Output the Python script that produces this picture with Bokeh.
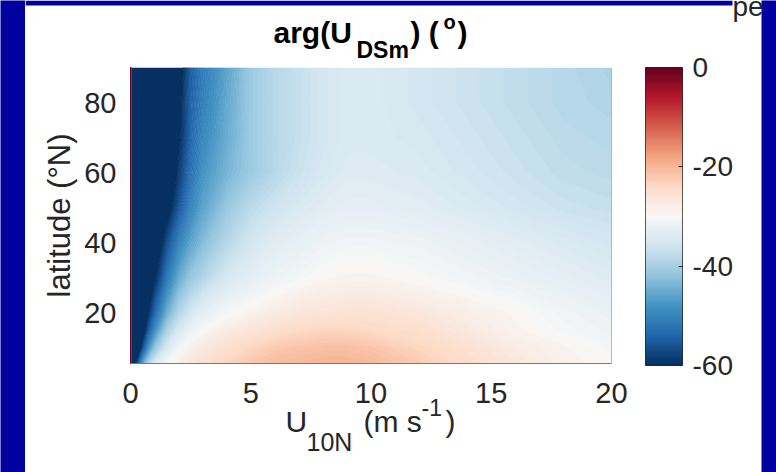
import numpy as np
from bokeh.plotting import figure
from bokeh.models import (LinearColorMapper, Range1d, FixedTicker, Label, Span,
                          BoxAnnotation, GridBox)
from bokeh.layouts import row, column
from bokeh.embed import file_html
from bokeh.resources import INLINE

# ---------------- data ----------------
wind_speed = [0, 0.05, 0.25, 0.5, 0.75, 1, 1.5, 2, 2.5, 3, 4, 5, 6, 7, 8, 9, 10, 12, 14, 16, 18, 20]
latitude = [5, 10, 15, 20, 30, 40, 50, 60, 70, 80, 90]

arg_lat05 = [0, -66, -57, -45, -38, -34, -30, -28, -26, -25, -23, -21.5, -20.5, -20, -19.5, -19.5, -20, -22, -24.5, -26.5, -28.5, -30]
arg_lat10 = [0, -75, -70, -57, -48, -42, -35, -31, -28.5, -27, -25, -23.5, -22, -21.5, -21, -21, -21.5, -23.5, -25.5, -27.5, -29, -30.5]
arg_lat15 = [0, -78, -74, -64, -55, -49, -40, -35, -32, -30, -27.5, -26, -25, -24, -23.5, -23.5, -24, -25, -27, -29, -30.5, -31.5]
arg_lat20 = [0, -80, -76, -68, -60, -54, -45, -39, -35.5, -33, -30.5, -29, -27.5, -26.5, -26, -25.5, -25.5, -26.5, -28, -29.5, -31, -32]
arg_lat30 = [0, -80, -78, -72, -66, -61, -52, -45.5, -41.5, -39, -35, -33, -31.5, -30.5, -29.5, -29, -29, -30, -31, -32, -33, -34]
arg_lat40 = [0, -80, -80, -76, -71, -66, -57, -50.5, -46, -43, -38.5, -35.5, -33.5, -32.5, -31.5, -31, -31, -31.5, -32.5, -33.5, -34.5, -35.5]
arg_lat50 = [0, -80, -80, -78, -75, -72, -63, -56, -50, -46, -41.5, -38, -36, -34.5, -33.5, -33, -33, -33.5, -34.5, -35.5, -36.5, -37]
arg_lat60 = [0, -80, -80, -80, -77, -74, -67, -59, -52.5, -48, -44, -41, -38.5, -36.5, -35, -34, -34, -34.5, -35.5, -36.5, -37.5, -38]
arg_lat70 = [0, -80, -80, -80, -78, -76, -68, -61, -54, -49.5, -45, -41, -38.5, -37, -35.5, -34.5, -34.5, -35, -36, -37, -38, -38.5]
arg_lat80 = [0, -80, -80, -80, -79, -77, -70, -61.5, -54.5, -50.5, -45.5, -41, -38.5, -37, -35.5, -34.5, -34.5, -35.5, -36.5, -37.5, -38.5, -39]
arg_lat90 = [0, -80, -80, -80, -80, -78, -72, -63, -55, -51, -46, -41, -38.5, -37, -35.5, -34.5, -34.5, -35.5, -36.5, -37.5, -38.5, -39.5]

x_ticks = [0, 5, 10, 15, 20]
y_ticks = [20, 40, 60, 80]
cbar_ticks = [-60, -40, -20, 0]
cbar_tick_labels = {-60: "-60", -40: "-40", -20: "-20", 0: "0"}
cbar_low, cbar_high = -60, 0

rdbu_anchors = ['#053061', '#2166ac', '#4393c3', '#92c5de', '#d1e5f0', '#f7f7f7',
                '#fddbc7', '#f4a582', '#d6604d', '#b2182b', '#67001f']

# ---------------- colour map ----------------
def hex2rgb(h):
    h = h.lstrip('#')
    return np.array([int(h[i:i + 2], 16) for i in (0, 2, 4)], dtype=float)

anchor_rgb = np.array([hex2rgb(c) for c in rdbu_anchors])
anchor_pos = np.linspace(0, 1, len(rdbu_anchors))

def cmap(v):
    t = np.clip((v - cbar_low) / (cbar_high - cbar_low), 0, 1)
    rgb = [np.interp(t, anchor_pos, anchor_rgb[:, k]) for k in range(3)]
    return '#%02x%02x%02x' % tuple(int(round(c)) for c in rgb)

palette = [cmap(v) for v in np.linspace(cbar_low, cbar_high, 256)]
mapper = LinearColorMapper(palette=palette, low=cbar_low, high=cbar_high)

z = np.array([arg_lat05, arg_lat10, arg_lat15, arg_lat20, arg_lat30, arg_lat40,
              arg_lat50, arg_lat60, arg_lat70, arg_lat80, arg_lat90], dtype=float)

inner = np.arange(-59.75, -0.2, 0.5)
levels = [-200.0] + list(inner) + [1.0]
mids = [-60.0] + [(inner[k - 1] + inner[k]) / 2 for k in range(1, len(inner))] + [0.0]
fill_colors = [cmap(m) for m in mids]
line_colors = [cmap(l) for l in levels]

FONT = "Liberation Sans"
TXT = "#262626"
BLUE = "#0000A0"
W, H = 776, 472

def blank_fig(w, h, fill="white"):
    f = figure(width=w, height=h, x_range=Range1d(0, w), y_range=Range1d(0, h),
               x_axis_type=None, y_axis_type=None, output_backend="svg",
               toolbar_location=None, min_border=0)
    f.outline_line_color = None
    f.grid.visible = False
    f.background_fill_color = fill
    f.border_fill_color = fill
    return f

# ---------------- title spacer (with blue top strip) ----------------
CB_TOP = 20                      # room above the colour bar for its "0" label
TH = 66 - CB_TOP
tfig = blank_fig(736, TH)
tfig.add_layout(BoxAnnotation(left=0, right=707, bottom=TH - 5, top=TH,
                              fill_color=BLUE, fill_alpha=1, line_color=None))

# ---------------- main map ----------------
B = 56
p = figure(frame_width=481, frame_height=296,
           x_range=Range1d(0, 20), y_range=Range1d(5.5, 90),
           output_backend="svg", toolbar_location=None,
           min_border_left=105, min_border_right=34,
           min_border_top=CB_TOP + 1, min_border_bottom=B)
p.background_fill_color = "white"
p.border_fill_color = "white"
p.outline_line_color = None
p.grid.visible = False

p.contour(wind_speed, latitude, z, levels, fill_color=fill_colors,
          line_color=line_colors, line_width=1)

p.add_layout(Span(location=20, dimension="height", line_color="#7a7a7a", line_width=1))

p.xaxis.ticker = FixedTicker(ticks=x_ticks)
p.yaxis.ticker = FixedTicker(ticks=y_ticks)
for ax in (p.xaxis[0], p.yaxis[0]):
    ax.major_tick_in = 0
    ax.major_tick_out = 0
    ax.minor_tick_in = 0
    ax.minor_tick_out = 0
    ax.major_label_text_font = FONT
    ax.major_label_text_font_size = "29px"
    ax.major_label_text_color = TXT
p.xaxis.axis_line_color = "#7a7a7a"
p.yaxis.axis_line_color = None
p.xaxis.major_label_standoff = 19
p.yaxis.major_label_standoff = 14
p.yaxis.axis_label = "latitude (°N)"
p.yaxis.axis_label_text_font = FONT
p.yaxis.axis_label_text_font_size = "31px"
p.yaxis.axis_label_text_font_style = "normal"
p.yaxis.axis_label_text_color = TXT
p.yaxis.axis_label_standoff = 4

# ---------------- colour bar ----------------
cfig = figure(frame_width=37, frame_height=298, x_range=Range1d(0, 1),
              y_range=Range1d(cbar_low, cbar_high), x_axis_type=None,
              y_axis_location="right", output_backend="svg", toolbar_location=None,
              min_border_left=0, min_border_top=CB_TOP, min_border_bottom=B - 1,
              min_border_right=79)
cfig.grid.visible = False
cfig.outline_line_color = "#262626"
cfig.background_fill_color = "white"
cfig.border_fill_color = "white"
grad = np.linspace(cbar_low, cbar_high, 256).reshape(256, 1)
cfig.image(image=[grad], x=0, y=cbar_low, dw=1, dh=cbar_high - cbar_low, color_mapper=mapper)
cax = cfig.yaxis[0]
cax.ticker = FixedTicker(ticks=cbar_ticks)
cax.major_label_overrides = cbar_tick_labels
cax.axis_line_color = None
cax.major_tick_in = 4
cax.major_tick_out = 0
cax.major_tick_line_color = "#262626"
cax.minor_tick_line_color = None
cax.major_label_standoff = 10
cax.major_label_text_font = FONT
cax.major_label_text_font_size = "28px"
cax.major_label_text_color = TXT

# ---------------- bottom spacer & blue side bands ----------------
XH = H - TH - (CB_TOP + 297 + B)
xfig = blank_fig(736, XH)
left_band = blank_fig(25, H, BLUE)
right_band = blank_fig(15, H, BLUE)
base = row(left_band, column(tfig, row(p, cfig), xfig), right_band)

# ---------------- transparent text overlay (page pixel coordinates) ----------------
ov = figure(width=W, height=H, x_range=Range1d(0, W), y_range=Range1d(0, H),
            x_axis_type=None, y_axis_type=None, output_backend="svg",
            toolbar_location=None, min_border=0)
ov.outline_line_color = None
ov.grid.visible = False
ov.background_fill_alpha = 0
ov.border_fill_alpha = 0

def lab(x, y_top, text, size, style="normal", color=TXT):
    ov.add_layout(Label(x=x, y=H - y_top, text=text, text_font=FONT, text_font_size=size,
                        text_font_style=style, text_color=color,
                        text_baseline="alphabetic", text_align="left"))

# title: arg(U_DSm) (^o)
lab(273, 32, "arg(U", "30px", "bold", "#000000")
lab(356, 49, "DSm", "23px", "bold", "#000000")
lab(410, 32, ") (", "30px", "bold", "#000000")
lab(443, 21, "o", "20px", "bold", "#000000")
lab(457, 32, ")", "30px", "bold", "#000000")
# fragment cut by the top edge
lab(732, 6, "pe", "28px")
# x axis label: U_10N (m s^-1)
lab(285, 421, "U", "30px")
lab(306, 441, "10N", "25px")
lab(363, 421, "(m s", "30px")
lab(421, 407, "-1", "23px")
lab(445, 421, ")", "30px")

layout = GridBox(children=[(base, 0, 0), (ov, 0, 0)])

open("out.html", "w").write(file_html(layout, INLINE))
